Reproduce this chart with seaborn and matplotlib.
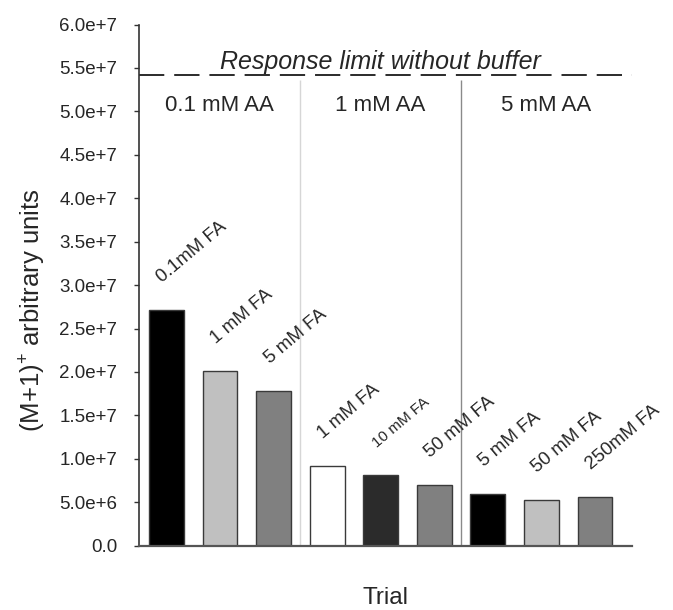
import numpy as np
import pandas as pd
import matplotlib
matplotlib.use("Agg")
import matplotlib.pyplot as plt
import seaborn as sns

# Data
buffer_groups = ['0.1 mM AA', '1 mM AA', '5 mM AA']
fa_labels = ['0.1mM FA', '1 mM FA', '5 mM FA',
             '1 mM FA', '10 mM FA', '50 mM FA',
             '5 mM FA', '50 mM FA', '250mM FA']
response = [2.71e7, 2.01e7, 1.78e7, 9.2e6, 8.15e6, 7.0e6, 6.0e6, 5.3e6, 5.6e6]
limit_no_buffer = 5.42e7
ytick_values = [0, 5e6, 1e7, 1.5e7, 2e7, 2.5e7, 3e7, 3.5e7, 4e7, 4.5e7, 5e7, 5.5e7, 6e7]
ytick_labels = ['0.0', '5.0e+6', '1.0e+7', '1.5e+7', '2.0e+7', '2.5e+7', '3.0e+7',
                '3.5e+7', '4.0e+7', '4.5e+7', '5.0e+7', '5.5e+7', '6.0e+7']

bar_colors = ['#000000', '#c0c0c0', '#808080',
              '#ffffff', '#2b2b2b', '#808080',
              '#000000', '#c0c0c0', '#808080']

sns.set_style('white')
plt.rcParams['font.family'] = ['Liberation Sans', 'DejaVu Sans']
plt.rcParams['mathtext.fontset'] = 'custom'
plt.rcParams['mathtext.rm'] = 'Liberation Sans'
plt.rcParams['mathtext.default'] = 'regular'

df = pd.DataFrame({'trial': [f'T{i + 1}' for i in range(len(response))],
                   'response': response})

fig = plt.figure(figsize=(6.73, 6.10), dpi=100)
ax = fig.add_axes([139 / 673, 1 - 545.7 / 610, (632 - 139) / 673, (545.7 - 24.5) / 610])

sns.barplot(data=df, x='trial', y='response', hue='trial', palette=bar_colors,
            legend=False, width=0.65, saturation=1, edgecolor='#3a3a3a',
            linewidth=1, ax=ax)

xmin, xmax = -0.51, 8.69
ax.set_xlim(xmin, xmax)
ax.set_ylim(0, 6e7)
sns.despine(ax=ax)
ax.spines['left'].set_color('#333333')
ax.spines['left'].set_linewidth(1.2)
ax.spines['bottom'].set_color('#555555')
ax.spines['bottom'].set_linewidth(1.6)

ax.set_xticks([])
ax.set_xlabel('Trial', fontsize=17.5)
ax.xaxis.set_label_coords(0.5, -0.08)

ax.set_yticks(ytick_values, ytick_labels)
ax.tick_params(axis='y', left=True, length=3.5, width=1, color='#333333',
               pad=12, labelsize=13.5, direction='out')
ax.set_ylabel('$(M{+}1)^{+}$ arbitrary units', fontsize=18.5)
ax.yaxis.set_label_coords(-0.185, 0.452)

# group separators and the no-buffer limit
ax.vlines(2.5, 0, limit_no_buffer - 0.06e7, color='#d6d6d6', lw=1)
ax.vlines(5.5, 0, limit_no_buffer - 0.06e7, color='#8a8a8a', lw=1)
ax.axhline(limit_no_buffer, color='#1a1a1a', lw=1.3, linestyle=(0, (14, 5.5)))
ax.text(4.0, 5.49e7, 'Response limit without buffer', style='italic',
        fontsize=18, ha='center', va='baseline')

group_edges = [xmin, 2.5, 5.5, xmax]
for g, name in enumerate(buffer_groups):
    xc = (group_edges[g] + group_edges[g + 1]) / 2
    ax.text(xc, 5.0e7, name, fontsize=16, ha='center', va='baseline')

# rotated labels above each bar
for i, (lab, v) in enumerate(zip(fa_labels, response)):
    size = 11 if lab.startswith('10 ') else 13.5
    ax.annotate(lab, xy=(i, v), xytext=(-4, 27), textcoords='offset pixels',
                rotation=40, rotation_mode='anchor', ha='left', va='baseline',
                fontsize=size)

fig.savefig('out.png', dpi=100)
